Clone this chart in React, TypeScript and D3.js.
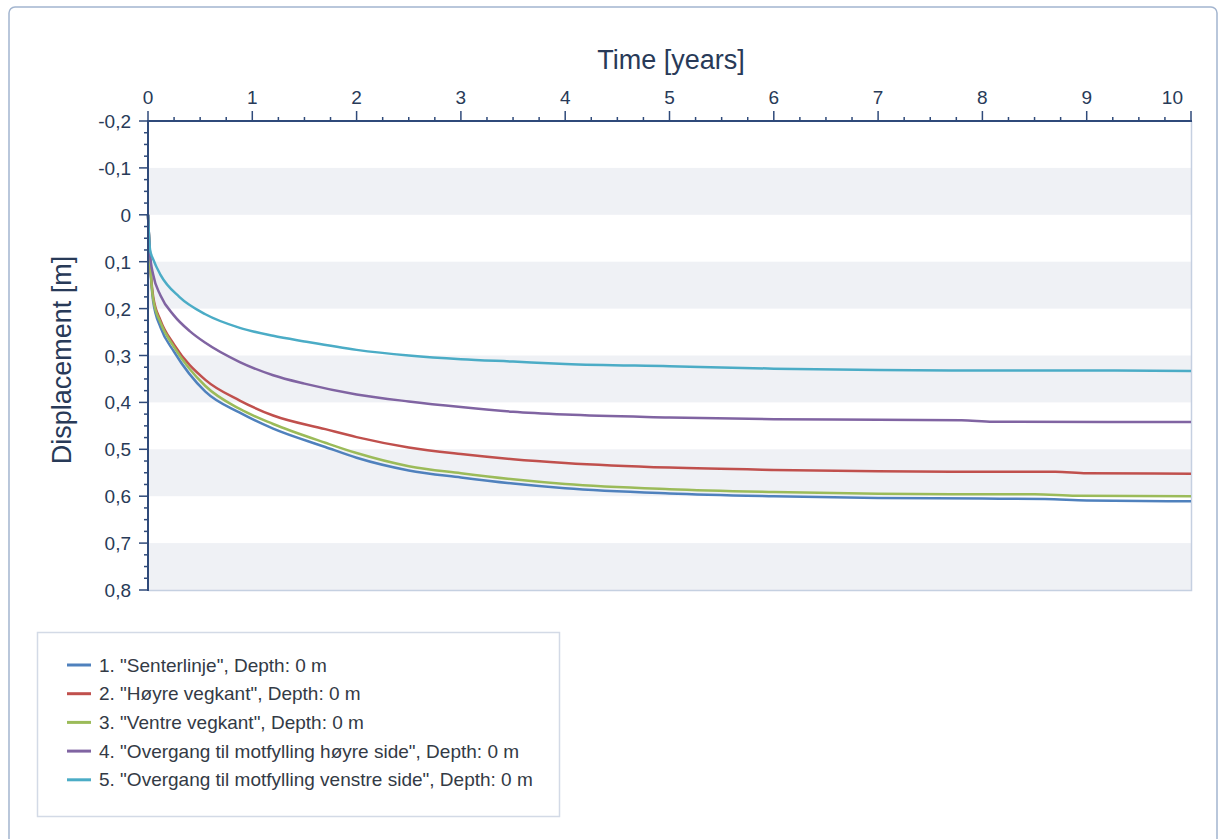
import { useEffect, useRef } from "react";
import * as d3 from "d3";

// settlement curves, time in years, displacement in metres (positive = down)
const SENTER_T = [0, 0.02, 0.05, 0.12, 0.25, 0.55, 0.88, 1.2, 1.7, 2, 2.5, 3, 3.5, 4, 5, 6, 7, 8, 8.6, 9, 10];
const SENTER_V = [0, 0.1, 0.185, 0.24, 0.292, 0.377, 0.422, 0.456, 0.495, 0.518, 0.545, 0.56, 0.573, 0.583, 0.594, 0.6, 0.604, 0.605, 0.606, 0.609, 0.611];

const HOYRE_T = [0, 0.02, 0.05, 0.12, 0.25, 0.55, 0.88, 1.2, 1.7, 2, 2.5, 3, 3.5, 4, 5, 6, 7, 8, 8.7, 9, 10];
const HOYRE_V = [0, 0.1, 0.175, 0.225, 0.277, 0.352, 0.396, 0.428, 0.457, 0.474, 0.496, 0.51, 0.521, 0.529, 0.539, 0.544, 0.547, 0.548, 0.548, 0.551, 0.552];

const VENTRE_T = [0, 0.02, 0.05, 0.12, 0.25, 0.55, 0.88, 1.2, 1.7, 2, 2.5, 3, 3.5, 4, 5, 6, 7, 8, 8.5, 8.9, 10];
const VENTRE_V = [0, 0.1, 0.18, 0.23, 0.282, 0.365, 0.414, 0.446, 0.486, 0.508, 0.536, 0.551, 0.564, 0.574, 0.585, 0.591, 0.595, 0.596, 0.596, 0.599, 0.6];

const MOT_H_T = [0, 0.02, 0.05, 0.12, 0.25, 0.4, 0.55, 0.88, 1.2, 1.5, 2, 2.5, 3, 3.5, 4, 5, 6, 7, 7.8, 8.1, 10];
const MOT_H_V = [0, 0.085, 0.128, 0.172, 0.215, 0.248, 0.273, 0.314, 0.342, 0.36, 0.383, 0.398, 0.41, 0.42, 0.426, 0.432, 0.436, 0.437, 0.438, 0.441, 0.442];

const MOT_V_T = [0, 0.02, 0.05, 0.12, 0.3, 0.55, 0.88, 1.2, 1.5, 2, 2.5, 3, 3.5, 4, 5, 6, 7, 8, 9, 10];
const MOT_V_V = [0, 0.075, 0.095, 0.128, 0.175, 0.212, 0.241, 0.258, 0.27, 0.288, 0.3, 0.308, 0.313, 0.318, 0.323, 0.328, 0.331, 0.332, 0.332, 0.333];

const NAMES = [
  '1. "Senterlinje", Depth: 0 m',
  '2. "Høyre vegkant", Depth: 0 m',
  '3. "Ventre vegkant", Depth: 0 m',
  '4. "Overgang til motfylling høyre side", Depth: 0 m',
  '5. "Overgang til motfylling venstre side", Depth: 0 m',
];
const COLORS = ["#4f81bd", "#c0504d", "#9bbb59", "#8064a2", "#4bacc6"];
const X_TICKS = [0, 1, 2, 3, 4, 5, 6, 7, 8, 9, 10];
const Y_TICKS = [-0.2, -0.1, 0, 0.1, 0.2, 0.3, 0.4, 0.5, 0.6, 0.7, 0.8];

const W = 1220;
const H = 839;
const FONT = '"Liberation Sans", Arial, sans-serif';
const INK = "#283a58";
const AXIS = "#2f4a7a";

export default function App() {
  const svgRef = useRef<SVGSVGElement>(null);

  useEffect(() => {
    const svg = d3.select(svgRef.current).attr("width", W).attr("height", H);
    svg.selectAll("*").remove();

    const series = [
      [SENTER_T, SENTER_V],
      [HOYRE_T, HOYRE_V],
      [VENTRE_T, VENTRE_V],
      [MOT_H_T, MOT_H_V],
      [MOT_V_T, MOT_V_V],
    ].map(([t, v]) => t.map((d, i) => ({ t: d, v: v[i] })));

    const left = 148, right = 1191, top = 121, bottom = 590;
    const x = d3.scaleLinear().domain([0, 10]).range([left, right]);
    const y = d3.scaleLinear().domain([-0.2, 0.8]).range([top, bottom]);

    /* outer frame */
    svg.append("rect")
      .attr("x", 9).attr("y", 7).attr("width", 1208).attr("height", 900)
      .attr("rx", 6).attr("fill", "#fff").attr("stroke", "#a3b5cf").attr("stroke-width", 1.5);

    /* bands */
    const bands = d3.range(-0.1, 0.75, 0.2);
    svg.append("g").selectAll("rect").data(bands).join("rect")
      .attr("x", left).attr("width", right - left)
      .attr("y", (d) => y(d)).attr("height", (d) => y(d + 0.1) - y(d))
      .attr("fill", "#eff1f5");

    /* plot border right / bottom */
    svg.append("path")
      .attr("d", `M${right + 0.5},${top} V${bottom + 0.5} H${left}`)
      .attr("fill", "none").attr("stroke", "#c5d0e1").attr("stroke-width", 1.5);

    /* lines */
    const line = d3.line<{ t: number; v: number }>()
      .x((d) => x(d.t)).y((d) => y(d.v))
      .curve(d3.curveMonotoneX);
    const lp = svg.append("g").attr("fill", "none").attr("stroke-width", 2.5);
    series.forEach((s, i) => {
      lp.append("path").attr("d", line(s)).attr("stroke", COLORS[i]).attr("stroke-linejoin", "round");
    });

    /* top axis */
    const ax = svg.append("g").attr("stroke", AXIS);
    ax.append("line").attr("x1", left).attr("x2", right + 1).attr("y1", top).attr("y2", top).attr("stroke-width", 2);
    d3.range(0, 10.001, 0.25).forEach((t) => {
      const major = Math.abs(t - Math.round(t)) < 1e-6;
      ax.append("line").attr("x1", x(t)).attr("x2", x(t))
        .attr("y1", top).attr("y2", top - (major ? 10 : 4)).attr("stroke-width", 1.5);
    });
    svg.append("g").selectAll("text").data(X_TICKS).join("text")
      .attr("x", (d) => (d === 10 ? x(d) - 8 : x(d)))
      .attr("y", 104)
      .attr("text-anchor", (d) => (d === 10 ? "end" : "middle"))
      .attr("font-family", FONT).attr("font-size", 19).attr("fill", INK)
      .text((d) => String(d));

    /* left axis */
    ax.append("line").attr("x1", left).attr("x2", left).attr("y1", top - 1).attr("y2", bottom + 1).attr("stroke-width", 2);
    d3.range(-0.2, 0.8001, 0.025).forEach((v) => {
      const major = Math.abs(v * 10 - Math.round(v * 10)) < 1e-6;
      ax.append("line").attr("x1", left).attr("x2", left - (major ? 9 : 4))
        .attr("y1", y(v)).attr("y2", y(v)).attr("stroke-width", 1.5);
    });
    svg.append("g").selectAll("text").data(Y_TICKS).join("text")
      .attr("x", 131).attr("y", (d) => y(d) + 7)
      .attr("text-anchor", "end")
      .attr("font-family", FONT).attr("font-size", 19).attr("fill", INK)
      .text((d) => (Math.abs(d) < 1e-9 ? "0" : d3.format(".1f")(d).replace(".", ",").replace("−", "-")));

    /* axis titles */
    svg.append("text").attr("x", 671).attr("y", 69).attr("text-anchor", "middle")
      .attr("font-family", FONT).attr("font-size", 27).attr("fill", INK).text("Time [years]");
    svg.append("text").attr("transform", "translate(71,360) rotate(-90)").attr("text-anchor", "middle")
      .attr("font-family", FONT).attr("font-size", 27).attr("fill", INK).text("Displacement [m]");

    /* legend */
    const lg = svg.append("g");
    lg.append("rect").attr("x", 37.5).attr("y", 632.5).attr("width", 522).attr("height", 184)
      .attr("fill", "#fff").attr("stroke", "#d3dae6").attr("stroke-width", 1.5);
    NAMES.forEach((n, i) => {
      const ry = 665 + i * 28.7;
      lg.append("line").attr("x1", 67).attr("x2", 91).attr("y1", ry).attr("y2", ry)
        .attr("stroke", COLORS[i]).attr("stroke-width", 3);
      lg.append("text").attr("x", 99).attr("y", ry + 6.5)
        .attr("font-family", FONT).attr("font-size", 19).attr("fill", "#333a45").text(n);
    });
  }, []);

  return (
    <div style={{ position: "fixed", left: 0, top: 0, width: W, height: H, background: "#fff" }}>
      <svg ref={svgRef}></svg>
    </div>
  );
}
